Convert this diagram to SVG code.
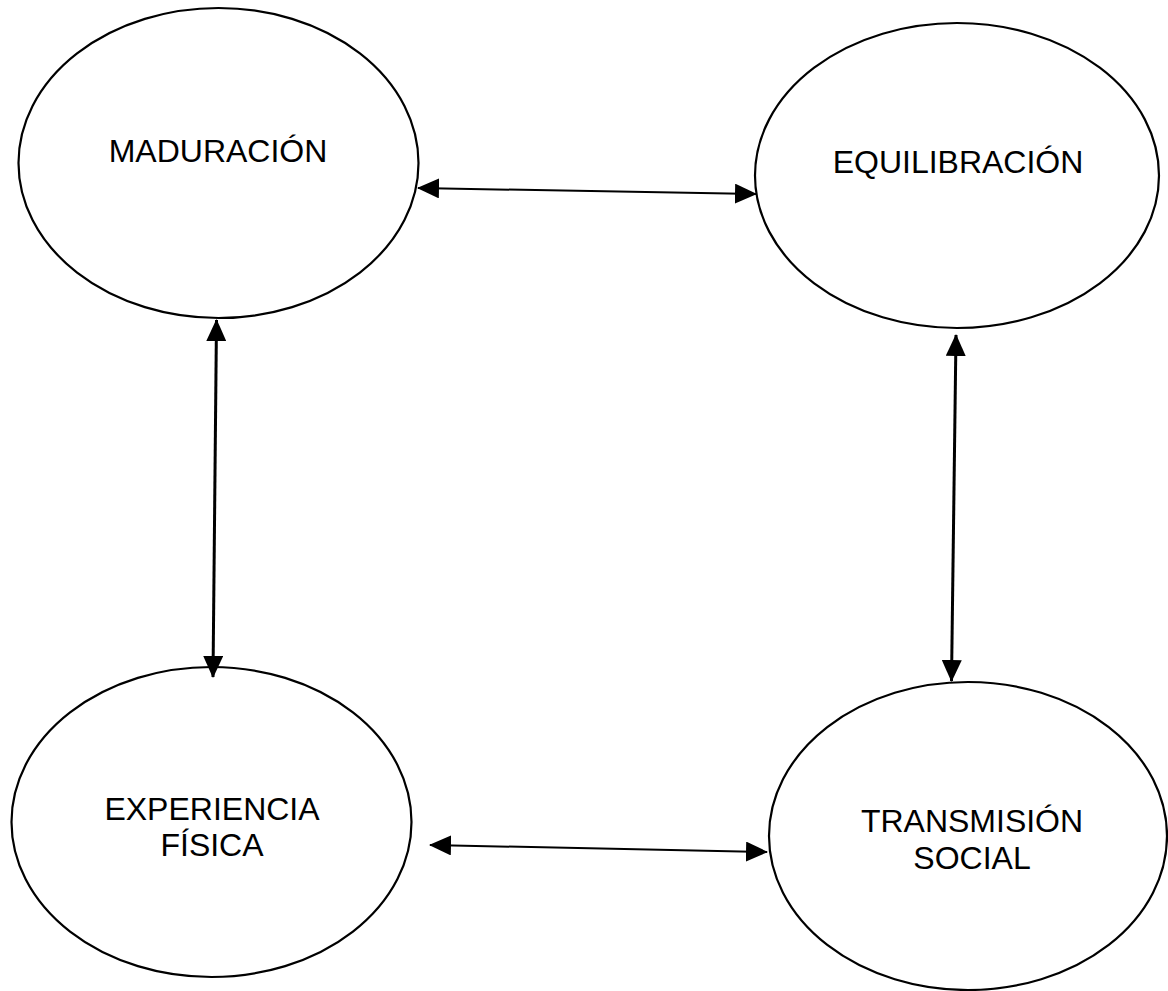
<svg xmlns="http://www.w3.org/2000/svg" width="1168" height="991" viewBox="0 0 1168 991">
  <style>
    .node { fill: #ffffff; stroke: #000000; stroke-width: 2.2; }
    .label { font-family: "Liberation Sans", Arial, sans-serif; font-size: 32px; fill: #000000; text-anchor: middle; }
    .link { stroke: #000000; fill: none; marker-start: url(#head); marker-end: url(#head); }
  </style>
  <defs>
    <marker id="head" markerUnits="userSpaceOnUse" markerWidth="22" markerHeight="20" refX="21" refY="10" orient="auto-start-reverse" viewBox="0 0 22 20">
      <path d="M0,0 L22,10 L0,20 z" fill="#000000"/>
    </marker>
  </defs>
  <rect width="1168" height="991" fill="#ffffff"/>

  <g id="maduracion">
    <ellipse class="node" cx="218.5" cy="163" rx="200" ry="155"/>
    <text class="label" x="218" y="162">MADURACIÓN</text>
  </g>

  <g id="equilibracion">
    <ellipse class="node" cx="957" cy="175.5" rx="202" ry="152.5"/>
    <text class="label" x="958" y="173">EQUILIBRACIÓN</text>
  </g>

  <g id="experiencia-fisica">
    <ellipse class="node" cx="211.5" cy="822" rx="200" ry="155"/>
    <text class="label" x="212" y="820">EXPERIENCIA</text>
    <text class="label" x="212" y="856">FÍSICA</text>
  </g>

  <g id="transmision-social">
    <ellipse class="node" cx="968" cy="836" rx="199" ry="154"/>
    <text class="label" x="972" y="832">TRANSMISIÓN</text>
    <text class="label" x="972" y="869">SOCIAL</text>
  </g>

  <g id="connectors">
    <line class="link" x1="418" y1="188" x2="756" y2="194" stroke-width="2"/>
    <line class="link" x1="216.5" y1="320" x2="213" y2="677" stroke-width="3"/>
    <line class="link" x1="956" y1="335" x2="951.5" y2="681" stroke-width="3"/>
    <line class="link" x1="430" y1="845" x2="767" y2="852" stroke-width="2"/>
  </g>
</svg>
